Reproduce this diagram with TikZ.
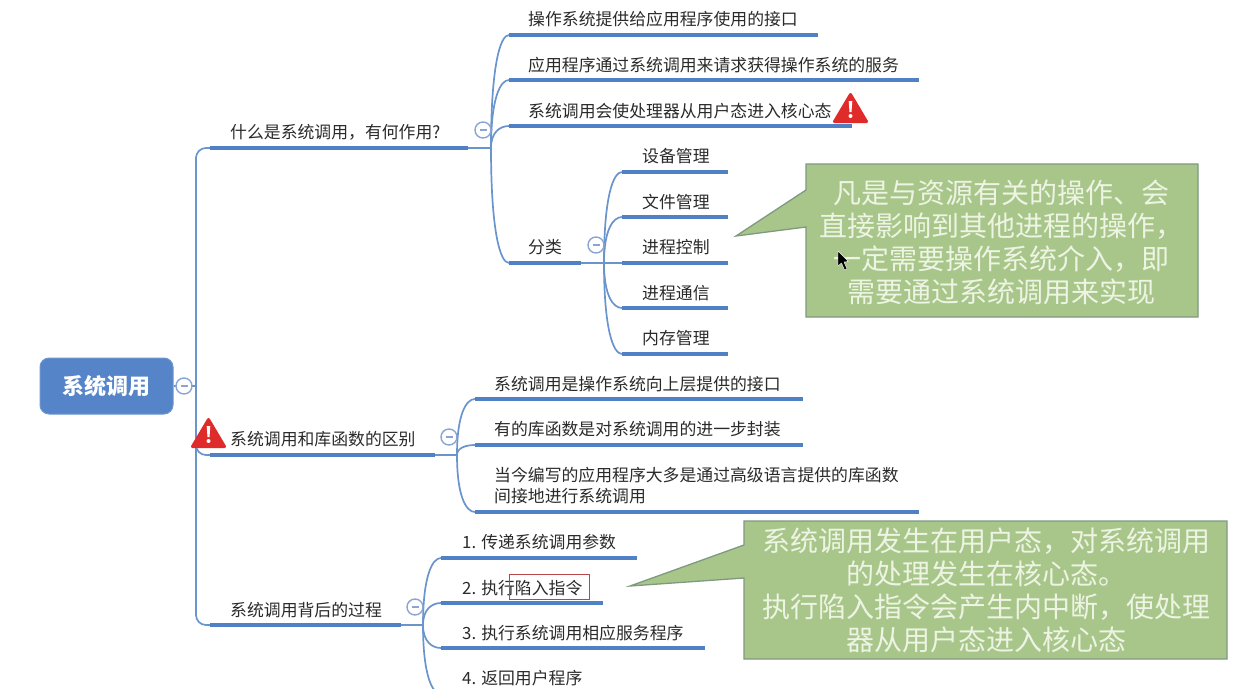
\documentclass[tikz,border=0pt]{standalone}
\usepackage{fontspec}
\setmainfont{Noto Sans CJK SC}
\usetikzlibrary{calc}
\newcommand{\fwcomma}{\symbol{"FF0C}}
\definecolor{barblue}{HTML}{4F81C4}
\definecolor{thinblue}{HTML}{6A94CC}
\definecolor{rootblue}{HTML}{5585C8}
\definecolor{ringblue}{HTML}{8AA5D3}
\definecolor{calloutfill}{HTML}{A8C68A}
\definecolor{calloutline}{HTML}{7D9A80}
\definecolor{callouttext}{HTML}{EDF4E3}
\definecolor{warnred}{HTML}{E02B2B}
\definecolor{inkdark}{HTML}{2A2A2A}
\definecolor{boxred}{HTML}{B8474A}
\tikzset{
  bar/.style={draw=barblue,line width=3.8pt},
  conn/.style={draw=thinblue,line width=1.7pt},
  lbl/.style={anchor=west,inner sep=0pt,text=inkdark,font=\fontsize{16.85}{21}\selectfont,align=left},
  rootbox/.style={fill=rootblue,draw=rootblue!85!white,line width=1pt,rounded corners=9pt,minimum width=133pt,minimum height=56pt,inner sep=0pt,text=white,font=\fontsize{22}{26}\selectfont\bfseries},
  minusc/.style={circle,draw=ringblue,fill=white,line width=1.4pt,minimum size=16pt,inner sep=0pt,
    path picture={\draw[ringblue,line width=1.3pt] ($(path picture bounding box.center)+(-3.5,0)$) -- +(7,0);}},
  callout/.style={fill=calloutfill,draw=calloutline,line width=1.3pt,line join=miter},
  callouttxt/.style={inner sep=0pt,text=callouttext,align=center,font=\fontsize{28}{33}\selectfont},
}
\newcommand{\branch}[2]{\draw[conn] (#1) .. controls ($(#1)!0.72!(#1|-#2)$) and ($(#1|-#2)!0.5!(#2)$) .. (#2);}
\newcommand{\warnsign}[2]{%
  \begin{scope}[shift={(#1,#2)}]
    \fill[warnred,draw=warnred,line width=3pt,line join=round] (0,-13.5) -- (16,13.5) -- (-16,13.5) -- cycle;
    \fill[white] (-1.8,-7) -- (1.8,-7) -- (1,4) -- (-1,4) -- cycle;
    \fill[white] (0,8) circle[radius=2];
  \end{scope}}
\begin{document}
\begin{tikzpicture}[x=1pt,y=-1pt]
\useasboundingbox (0,0) rectangle (1241,688);
\clip (0,0) rectangle (1241,688);
% ---- coordinates
\coordinate (h0) at (196,386);
\coordinate (a1) at (210,148); \coordinate (a1e) at (468,148); \coordinate (h1) at (491,148);
\coordinate (a2) at (210,455); \coordinate (a2e) at (435,455); \coordinate (h2) at (457,455);
\coordinate (a3) at (210,625); \coordinate (a3e) at (401,625); \coordinate (h3) at (423,625);
\coordinate (l1) at (509,35);  \coordinate (l1e) at (818,35);
\coordinate (l2) at (509,80);  \coordinate (l2e) at (919,80);
\coordinate (l3) at (509,126); \coordinate (l3e) at (852,126);
\coordinate (l4) at (509,263); \coordinate (l4e) at (581,263); \coordinate (h4) at (604,263);
\coordinate (s1) at (622,172); \coordinate (s1e) at (728,172);
\coordinate (s2) at (622,217); \coordinate (s2e) at (728,217);
\coordinate (s3) at (622,263); \coordinate (s3e) at (728,263);
\coordinate (s4) at (622,308); \coordinate (s4e) at (728,308);
\coordinate (s5) at (622,354); \coordinate (s5e) at (728,354);
\coordinate (m1) at (475,399); \coordinate (m1e) at (803,399);
\coordinate (m2) at (475,445); \coordinate (m2e) at (803,445);
\coordinate (m3) at (475,512); \coordinate (m3e) at (919,512);
\coordinate (p1) at (441,558); \coordinate (p1e) at (637,558);
\coordinate (p2) at (441,603); \coordinate (p2e) at (603,603);
\coordinate (p3) at (441,648); \coordinate (p3e) at (705,648);
\coordinate (p4) at (441,694); \coordinate (p4e) at (620,694);
% ---- trunk
\draw[conn,rounded corners=10pt] (h0) |- (a1);
\draw[conn,rounded corners=10pt] (h0) |- (a2);
\draw[conn,rounded corners=10pt] (h0) |- (a3);
% ---- thin links from bars to hubs
\draw[conn] (a1e) -- (h1);
\draw[conn] (a2e) -- (h2);
\draw[conn] (a3e) -- (h3);
\draw[conn] (l4e) -- (s3);
% ---- branch curves
\foreach \t in {l1,l2,l3,l4} {\branch{h1}{\t}}
\foreach \t in {s1,s2,s4,s5} {\branch{h4}{\t}}
\foreach \t in {m1,m2,m3} {\branch{h2}{\t}}
\foreach \t in {p1,p2,p3,p4} {\branch{h3}{\t}}
% ---- bars
\foreach \t in {a1,a2,a3,l1,l2,l3,l4,s1,s2,s3,s4,s5,m1,m2,m3,p1,p2,p3,p4} {\draw[bar] (\t) -- (\t e);}
% ---- root
\node[rootbox] (root) at (106.5,386) {\raisebox{-1.5pt}{系统调用}};
\draw[conn] (root.east) -- (h0);
\node[minusc] (c0) at (184,386) {};
\node[minusc] (c1) at (483,130) {};
\node[minusc] (c2) at (449,437) {};
\node[minusc] (c3) at (415,607) {};
\node[minusc] (c4) at (596,245) {};
% ---- labels
\node[lbl] (ta1) at (230,132) {什么是系统调用\fwcomma 有何作用?};
\node[lbl] (ta2) at (230,439) {系统调用和库函数的区别};
\node[lbl] (ta3) at (230,610) {系统调用背后的过程};
\node[lbl] (tl1) at (528,19) {操作系统提供给应用程序使用的接口};
\node[lbl] (tl2) at (528,65) {应用程序通过系统调用来请求获得操作系统的服务};
\node[lbl] (tl3) at (528,111) {系统调用会使处理器从用户态进入核心态};
\node[lbl] (tl4) at (528,247) {分类};
\node[lbl] (ts1) at (642,156) {设备管理};
\node[lbl] (ts2) at (642,202) {文件管理};
\node[lbl] (ts3) at (642,247) {进程控制};
\node[lbl] (ts4) at (642,293) {进程通信};
\node[lbl] (ts5) at (642,338) {内存管理};
\node[lbl] (tm1) at (494,384) {系统调用是操作系统向上层提供的接口};
\node[lbl] (tm2) at (494,429) {有的库函数是对系统调用的进一步封装};
\node[lbl] (tm3) at (494,486) {当今编写的应用程序大多是通过高级语言提供的库函数\\间接地进行系统调用};
\node[lbl] (tp1) at (462,542) {1. 传递系统调用参数};
\node[lbl] (tp2) at (462,588) {2. 执行陷入指令};
\node[lbl] (tp3) at (462,633) {3. 执行系统调用相应服务程序};
\node[lbl] (tp4) at (462,678) {4. 返回用户程序};
% ---- highlight box
\node[draw=boxred,line width=0.9pt,minimum width=80pt,minimum height=25pt,inner sep=0pt] (hl) at (549,586.5) {};
% ---- warnings
\warnsign{850.5}{108}
\warnsign{208.5}{433}
% ---- callouts
\draw[callout] (806,164) -- (1198,164) -- (1198,317) -- (806,317) -- (806,227) -- (736,236) -- (806,190) -- cycle;
\node[callouttxt] (n1) at (1001,242) {凡是与资源有关的操作、会\\直接影响到其他进程的操作\fwcomma\\一定需要操作系统介入\fwcomma 即\\需要通过系统调用来实现};
\draw[callout] (744,521) -- (1227,521) -- (1227,659) -- (744,659) -- (744,578) -- (630,586) -- (744,545) -- cycle;
\node[callouttxt] (n2) at (986,590) {系统调用发生在用户态\fwcomma 对系统调用\\的处理发生在核心态。\\执行陷入指令会产生内中断\fwcomma 使处理\\器从用户态进入核心态};
% ---- mouse pointer
\fill[black,draw=white,line width=0.4pt] (838,251) -- (838,266) -- (841.5,263) -- (844.5,270) -- (847,269) -- (844,262) -- (848.5,261.5) -- cycle;
\end{tikzpicture}
\end{document}
